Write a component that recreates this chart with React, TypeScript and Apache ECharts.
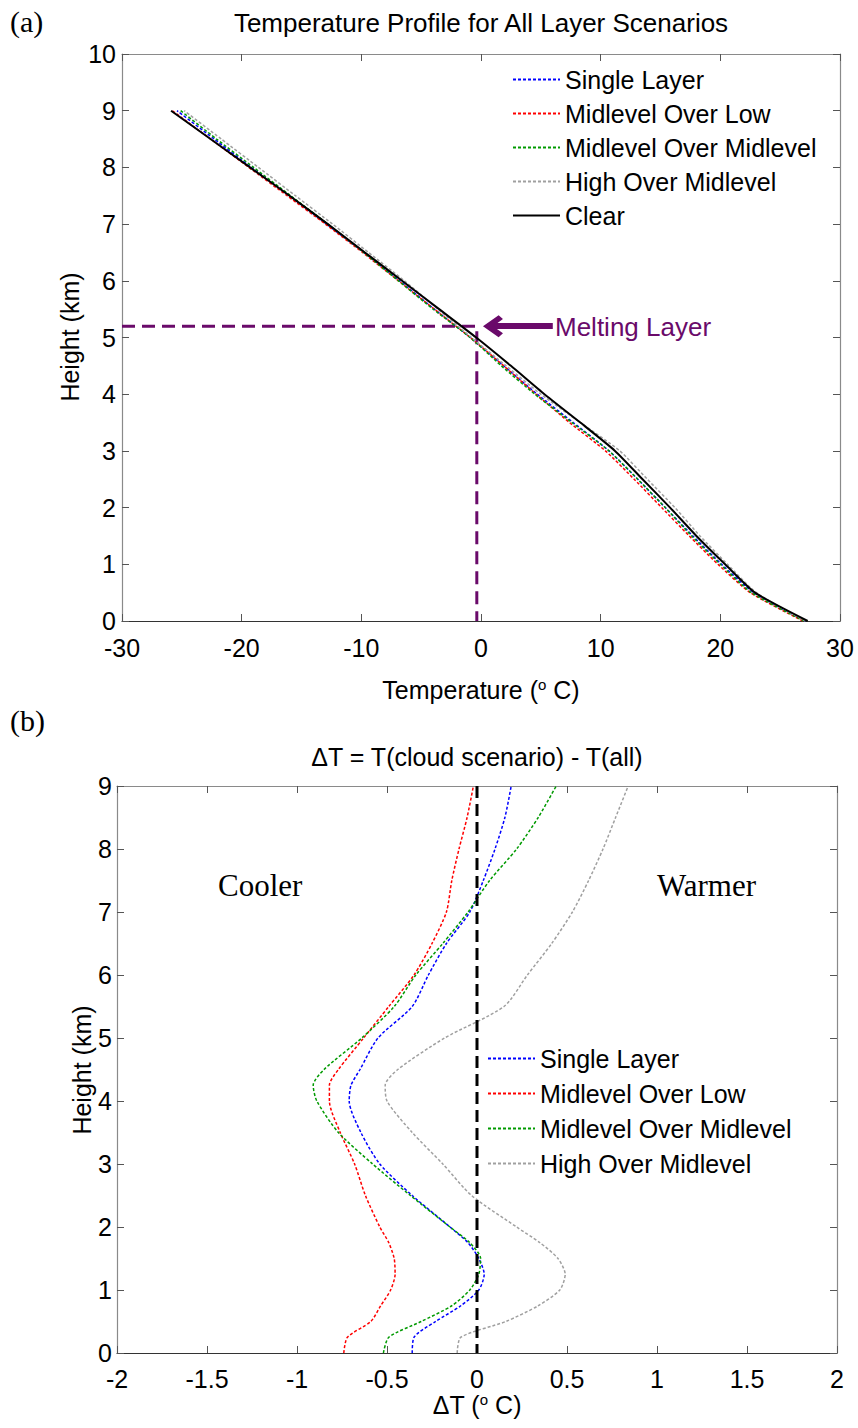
import React, { useEffect, useRef } from "react";
import * as echarts from "echarts";

// ---- Panel (a): temperature profiles (height in km, temperature in °C) ----
const HEIGHTS_A = [0, 0.5, 1, 1.5, 2, 2.5, 3, 3.5, 4, 4.5, 5, 5.5, 6, 6.5, 7, 7.5, 8, 8.5, 9];
const T_SINGLE = [27.1, 22.8, 20.1, 17.7, 15.4, 13.1, 10.7, 7.7, 4.7, 1.9, -0.9, -3.9, -6.8, -9.8, -12.9, -16.0, -19.2, -22.3, -25.4];
const T_MID_LOW = [26.9, 22.5, 19.8, 17.4, 15.1, 12.8, 10.4, 7.4, 4.6, 1.9, -0.9, -3.9, -6.9, -9.9, -13.0, -16.2, -19.4, -22.6, -25.8];
const T_MID_MID = [27.0, 22.6, 20.0, 17.6, 15.4, 13.1, 10.7, 7.6, 4.5, 1.7, -0.9, -4.0, -6.9, -9.8, -12.8, -15.9, -19.0, -22.1, -25.1];
const T_HIGH_MID = [27.1, 23.0, 20.6, 18.3, 16.2, 13.9, 11.6, 8.3, 5.0, 2.1, -0.8, -3.6, -6.4, -9.4, -12.4, -15.5, -18.6, -21.7, -24.8];
const T_CLEAR = [27.3, 22.9, 20.4, 18.0, 15.8, 13.5, 11.2, 8.3, 5.3, 2.5, -0.4, -3.5, -6.6, -9.7, -12.8, -16.0, -19.3, -22.6, -25.9];

// Melting layer guide
const MELT_HEIGHT = 5.2;
const MELT_TEMP = -0.35;
const ARROW_FROM = 6.0;
const ARROW_TO = 1.0;

// ---- Panel (b): temperature difference ΔT (°C) against height (km) ----
const HEIGHTS_B = [0, 0.25, 0.5, 0.75, 1, 1.25, 1.5, 1.75, 2, 2.5, 3, 3.5, 4, 4.25, 4.5, 5, 5.5, 6, 6.5, 7, 7.5, 8, 8.5, 9];
const DT_SINGLE = [-0.36, -0.35, -0.23, -0.09, 0.01, 0.04, 0.01, -0.05, -0.15, -0.36, -0.54, -0.645, -0.71, -0.70, -0.65, -0.55, -0.36, -0.27, -0.17, -0.04, 0.035, 0.10, 0.155, 0.19];
const DT_MID_LOW = [-0.74, -0.72, -0.59, -0.535, -0.48, -0.455, -0.46, -0.49, -0.54, -0.62, -0.68, -0.76, -0.82, -0.82, -0.77, -0.63, -0.49, -0.35, -0.25, -0.17, -0.14, -0.10, -0.055, -0.02];
const DT_MID_MID = [-0.52, -0.49, -0.31, -0.14, -0.04, 0.01, 0.02, -0.04, -0.15, -0.37, -0.58, -0.77, -0.89, -0.91, -0.85, -0.64, -0.46, -0.34, -0.19, -0.05, 0.07, 0.22, 0.34, 0.44];
const DT_HIGH_MID = [-0.11, -0.09, 0.16, 0.34, 0.46, 0.49, 0.45, 0.35, 0.22, -0.03, -0.19, -0.36, -0.50, -0.51, -0.44, -0.18, 0.15, 0.28, 0.415, 0.53, 0.62, 0.70, 0.77, 0.84];

const NAMES = ["Single Layer", "Midlevel Over Low", "Midlevel Over Midlevel", "High Over Midlevel", "Clear"];
const COLORS = ["#0000ff", "#ff0000", "#009a00", "#a0a0a0", "#000000"];

const PURPLE = "#6a0a6a";
const SANS = "Liberation Sans, Arial, Helvetica, sans-serif";
const SERIF = "Liberation Serif, Times New Roman, serif";
const FS = 25;

const pairs = (xs: number[], ys: number[]) => xs.map((x, i) => [x, ys[i]]);

const frameAxisLine = (color: string) => ({ show: true, onZero: false, lineStyle: { color, width: 1.2 } });

function buildOption() {
  const tick = { show: true, inside: true, length: 7, lineStyle: { color: "#555", width: 1 } };
  const label = { color: "#000", fontSize: FS, fontFamily: SANS, lineHeight: 20 };

  const xAxis = [
    {
      gridIndex: 0, type: "value", min: -30, max: 30, interval: 10, position: "bottom",
      axisLine: frameAxisLine("#333"), axisTick: tick, axisLabel: { ...label, margin: 17 }, splitLine: { show: false },
    },
    {
      gridIndex: 0, type: "value", min: -30, max: 30, interval: 10, position: "top",
      axisLine: frameAxisLine("#8a8a8a"), axisTick: tick, axisLabel: { show: false }, splitLine: { show: false },
    },
    {
      gridIndex: 1, type: "value", min: -2, max: 2, interval: 0.5, position: "bottom",
      axisLine: frameAxisLine("#333"), axisTick: tick, axisLabel: { ...label, margin: 16 }, splitLine: { show: false },
    },
    {
      gridIndex: 1, type: "value", min: -2, max: 2, interval: 0.5, position: "top",
      axisLine: frameAxisLine("#8a8a8a"), axisTick: tick, axisLabel: { show: false }, splitLine: { show: false },
    },
  ];

  const yAxis = [
    {
      gridIndex: 0, type: "value", min: 0, max: 10, interval: 1, position: "left",
      axisLine: frameAxisLine("#8a8a8a"), axisTick: tick, axisLabel: { ...label, margin: 6 }, splitLine: { show: false },
    },
    {
      gridIndex: 0, type: "value", min: 0, max: 10, interval: 1, position: "right",
      axisLine: frameAxisLine("#8a8a8a"), axisTick: tick, axisLabel: { show: false }, splitLine: { show: false },
    },
    {
      gridIndex: 1, type: "value", min: 0, max: 9, interval: 1, position: "left",
      axisLine: frameAxisLine("#8a8a8a"), axisTick: tick, axisLabel: { ...label, margin: 5 }, splitLine: { show: false },
    },
    {
      gridIndex: 1, type: "value", min: 0, max: 9, interval: 1, position: "right",
      axisLine: frameAxisLine("#8a8a8a"), axisTick: tick, axisLabel: { show: false }, splitLine: { show: false },
    },
  ];

  const dashed = (color: string) => ({ color, width: 1.5, type: [3, 2] as number[] });

  const profilesA = [T_SINGLE, T_MID_LOW, T_MID_MID, T_HIGH_MID];
  const seriesA: any[] = profilesA.map((temps, i) => ({
    name: NAMES[i], type: "line", xAxisIndex: 0, yAxisIndex: 0,
    data: pairs(temps, HEIGHTS_A), showSymbol: false, symbol: "none", smooth: 0.2,
    lineStyle: dashed(COLORS[i]), itemStyle: { color: COLORS[i] }, z: 3,
  }));
  seriesA.push({
    name: NAMES[4], type: "line", xAxisIndex: 0, yAxisIndex: 0,
    data: pairs(T_CLEAR, HEIGHTS_A), showSymbol: false, symbol: "none", smooth: 0.2,
    lineStyle: { color: "#000", width: 2, type: "solid" }, itemStyle: { color: "#000" }, z: 4,
  });

  const meltSeries = {
    name: "melt", type: "line", xAxisIndex: 0, yAxisIndex: 0, silent: true,
    data: [[-30, MELT_HEIGHT], [MELT_TEMP, MELT_HEIGHT], [MELT_TEMP, 0]],
    showSymbol: false, symbol: "none",
    lineStyle: { color: PURPLE, width: 3, type: [13, 7] },
    z: 2,
    markLine: {
      silent: true,
      symbol: ["none", "path://M5,0 L10,6.5 L8.2,8.3 L5,4.2 L1.8,8.3 L0,6.5 Z"],
      symbolSize: [22, 20],
      label: { show: false },
      lineStyle: { color: PURPLE, width: 6, type: "solid" },
      data: [[{ coord: [ARROW_FROM, MELT_HEIGHT] }, { coord: [ARROW_TO, MELT_HEIGHT] }]],
    },
  };

  const profilesB = [DT_SINGLE, DT_MID_LOW, DT_MID_MID, DT_HIGH_MID];
  const seriesB = profilesB.map((dt, i) => ({
    name: NAMES[i], type: "line", xAxisIndex: 2, yAxisIndex: 2,
    data: pairs(dt, HEIGHTS_B), showSymbol: false, symbol: "none", smooth: 0.25,
    lineStyle: dashed(COLORS[i]), itemStyle: { color: COLORS[i] }, z: 3,
  }));

  const zeroSeries = {
    name: "zero", type: "line", xAxisIndex: 2, yAxisIndex: 2, silent: true,
    data: [[0, 9], [0, 0]], showSymbol: false, symbol: "none",
    lineStyle: { color: "#000", width: 3, type: [12, 6] }, z: 5,
  };

  const legendText = { color: "#000", fontSize: FS, fontFamily: SANS, lineHeight: 25 };

  const supRich = {
    sup: { fontSize: 15, fontFamily: SANS, padding: [0, 0, 12, 0], fill: "#000" },
  };

  const graphic = [
    { type: "text", left: 10, top: 6, style: { text: "(a)", font: `30px ${SERIF}`, fill: "#000" } },
    {
      type: "text", x: 481, y: 23,
      style: { text: "Temperature Profile for All Layer Scenarios", font: `26px ${SANS}`, fill: "#000", align: "center", verticalAlign: "middle" },
    },
    {
      type: "text", x: 481, y: 690,
      style: { text: "Temperature ({sup|o} C)", font: `${FS}px ${SANS}`, fill: "#000", align: "center", verticalAlign: "middle", rich: supRich },
    },
    {
      type: "text", x: 70, y: 337, rotation: Math.PI / 2,
      style: { text: "Height (km)", font: `${FS}px ${SANS}`, fill: "#000", align: "center", verticalAlign: "middle" },
    },
    {
      type: "text", x: 555, y: 327,
      style: { text: "Melting Layer", font: `26px ${SANS}`, fill: PURPLE, align: "left", verticalAlign: "middle" },
    },
    { type: "text", left: 10, top: 705, style: { text: "(b)", font: `30px ${SERIF}`, fill: "#000" } },
    {
      type: "text", x: 477, y: 757,
      style: { text: "ΔT = T(cloud scenario) - T(all)", font: `25px ${SANS}`, fill: "#000", align: "center", verticalAlign: "middle" },
    },
    {
      type: "text", x: 218, y: 885,
      style: { text: "Cooler", font: `31px ${SERIF}`, fill: "#000", align: "left", verticalAlign: "middle" },
    },
    {
      type: "text", x: 657, y: 885,
      style: { text: "Warmer", font: `31px ${SERIF}`, fill: "#000", align: "left", verticalAlign: "middle" },
    },
    {
      type: "text", x: 477, y: 1405,
      style: { text: "ΔT ({sup|o} C)", font: `${FS}px ${SANS}`, fill: "#000", align: "center", verticalAlign: "middle", rich: supRich },
    },
    {
      type: "text", x: 82, y: 1070, rotation: Math.PI / 2,
      style: { text: "Height (km)", font: `${FS}px ${SANS}`, fill: "#000", align: "center", verticalAlign: "middle" },
    },
  ];

  return {
    animation: false,
    backgroundColor: "#fff",
    grid: [
      { left: 122, top: 54, width: 718, height: 567, containLabel: false },
      { left: 117, top: 786, width: 720, height: 567, containLabel: false },
    ],
    xAxis,
    yAxis,
    legend: [
      {
        data: NAMES, orient: "vertical", left: 512, top: 67, padding: 0,
        itemWidth: 47, itemHeight: 14, itemGap: 9, textStyle: legendText,
        itemStyle: { opacity: 0 }, selectedMode: false,
      },
      {
        data: NAMES.slice(0, 4), orient: "vertical", left: 487, top: 1046, padding: 0,
        itemWidth: 47, itemHeight: 14, itemGap: 10, textStyle: legendText,
        itemStyle: { opacity: 0 }, selectedMode: false,
      },
    ],
    series: [...seriesA, meltSeries, ...seriesB, zeroSeries],
    graphic,
  };
}

export default function App() {
  const ref = useRef<HTMLDivElement>(null);

  useEffect(() => {
    document.body.style.margin = "0";
    if (!ref.current) return;
    const chart = echarts.init(ref.current, undefined, { renderer: "svg" });
    chart.setOption(buildOption() as any);
    return () => chart.dispose();
  }, []);

  return <div ref={ref} style={{ width: 858, height: 1428 }} />;
}
